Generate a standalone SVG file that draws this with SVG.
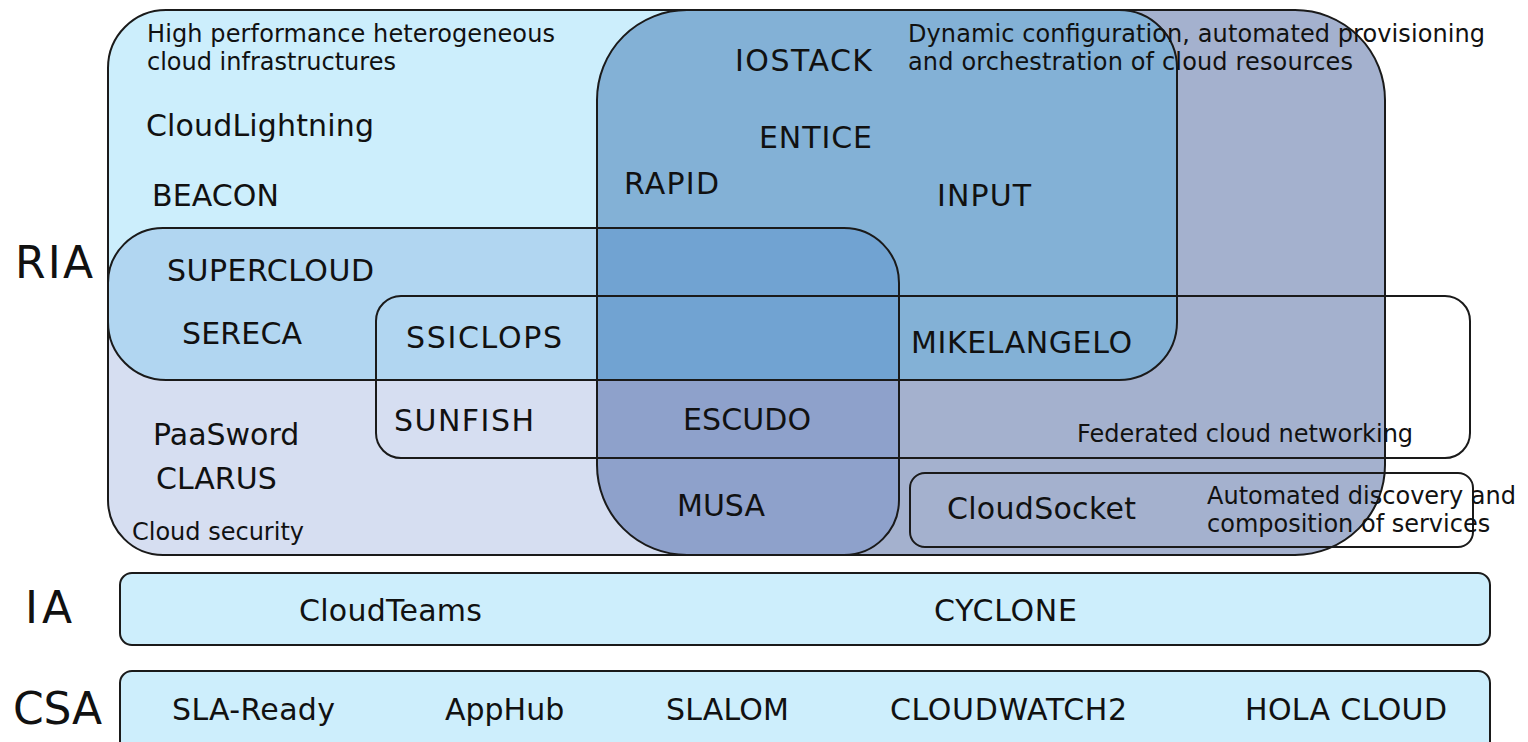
<svg xmlns="http://www.w3.org/2000/svg" width="1528" height="742" viewBox="0 0 1528 742">
<style>
  .edge { fill: none; stroke: #1a1a1a; stroke-width: 2; }
  .row { fill: #CDEEFC; stroke: #1a1a1a; stroke-width: 2; }
  text { font-family: "DejaVu Sans", Verdana, sans-serif; fill: #111; }
  .big { font-size: 30px; }
  .small { font-size: 24px; }
  .tier { font-size: 44px; }
</style>
<defs>
  <rect id="rHPC" x="108" y="10" width="1069" height="370" rx="58" ry="58"/>
  <rect id="rSEC" x="108" y="228" width="791" height="327" rx="55" ry="55"/>
  <rect id="rDYN" x="597" y="10" width="788" height="545" rx="90" ry="90"/>
  <clipPath id="cHPC"><rect x="108" y="10" width="1069" height="370" rx="58" ry="58"/></clipPath>
  <clipPath id="cSEC"><rect x="108" y="228" width="791" height="327" rx="55" ry="55"/></clipPath>
</defs>
<rect x="0" y="0" width="1528" height="742" fill="#ffffff"/>

<!-- region shading (set overlaps) -->
<g id="region-fills">
  <use href="#rHPC" fill="#CCEEFC"/>
  <use href="#rSEC" fill="#D6DEF1"/>
  <use href="#rDYN" fill="#A4B1CE"/>
  <g clip-path="url(#cHPC)">
    <use href="#rSEC" fill="#B1D6F1"/>
    <use href="#rDYN" fill="#83B1D6"/>
  </g>
  <g clip-path="url(#cSEC)">
    <use href="#rDYN" fill="#8EA1CB"/>
    <g clip-path="url(#cHPC)">
      <use href="#rDYN" fill="#71A3D2"/>
    </g>
  </g>
</g>

<g id="connectors"/>

<g id="set-hpc">
  <use href="#rHPC" class="edge"/>
  <text class="small" x="147" y="42" textLength="408" lengthAdjust="spacing">High performance heterogeneous</text>
  <text class="small" x="147" y="70">cloud infrastructures</text>
</g>
<g id="set-security">
  <use href="#rSEC" class="edge"/>
  <text class="small" x="132" y="540">Cloud security</text>
</g>
<g id="set-dynamic">
  <use href="#rDYN" class="edge"/>
  <text class="small" x="908" y="42" textLength="577" lengthAdjust="spacing">Dynamic configuration, automated provisioning</text>
  <text class="small" x="908" y="70" textLength="445" lengthAdjust="spacing">and orchestration of cloud resources</text>
</g>
<g id="set-networking">
  <rect class="edge" x="376" y="296" width="1094" height="162" rx="25" ry="25"/>
  <text class="small" x="1077" y="442">Federated cloud networking</text>
</g>
<g id="set-discovery">
  <rect class="edge" x="910" y="473" width="563" height="74" rx="15" ry="15"/>
  <text class="small" x="1207" y="504">Automated discovery and</text>
  <text class="small" x="1207" y="532">composition of services</text>
</g>

<g id="projects-ria">
  <text id="p-cloudlightning" class="big" x="146" y="136" textLength="228" lengthAdjust="spacing">CloudLightning</text>
  <text id="p-beacon" class="big" x="152" y="206" textLength="127" lengthAdjust="spacing">BEACON</text>
  <text id="p-iostack" class="big" x="735" y="71" textLength="137" lengthAdjust="spacing">IOSTACK</text>
  <text id="p-entice" class="big" x="759" y="148" textLength="113" lengthAdjust="spacing">ENTICE</text>
  <text id="p-rapid" class="big" x="624" y="194" textLength="95" lengthAdjust="spacing">RAPID</text>
  <text id="p-input" class="big" x="937" y="206" textLength="94" lengthAdjust="spacing">INPUT</text>
  <text id="p-supercloud" class="big" x="167" y="281" textLength="207" lengthAdjust="spacing">SUPERCLOUD</text>
  <text id="p-sereca" class="big" x="182" y="344" textLength="120" lengthAdjust="spacing">SERECA</text>
  <text id="p-ssiclops" class="big" x="406" y="348" textLength="156" lengthAdjust="spacing">SSICLOPS</text>
  <text id="p-mikelangelo" class="big" x="911" y="353" textLength="221" lengthAdjust="spacing">MIKELANGELO</text>
  <text id="p-sunfish" class="big" x="394" y="431" textLength="140" lengthAdjust="spacing">SUNFISH</text>
  <text id="p-escudo" class="big" x="683" y="430" textLength="128" lengthAdjust="spacing">ESCUDO</text>
  <text id="p-paasword" class="big" x="153" y="445">PaaSword</text>
  <text id="p-clarus" class="big" x="156" y="489">CLARUS</text>
  <text id="p-musa" class="big" x="677" y="516">MUSA</text>
  <text id="p-cloudsocket" class="big" x="947" y="519" textLength="189" lengthAdjust="spacing">CloudSocket</text>
</g>

<g id="tier-ria">
  <text class="tier" x="15" y="278" textLength="78" lengthAdjust="spacing">RIA</text>
</g>
<g id="tier-ia">
  <rect class="row" x="120" y="573" width="1370" height="72" rx="12" ry="12"/>
  <text class="tier" x="25" y="623" textLength="47" lengthAdjust="spacing">IA</text>
  <text id="p-cloudteams" class="big" x="299" y="621" textLength="183" lengthAdjust="spacing">CloudTeams</text>
  <text id="p-cyclone" class="big" x="934" y="621" textLength="143" lengthAdjust="spacing">CYCLONE</text>
</g>
<g id="tier-csa">
  <rect class="row" x="120" y="671" width="1370" height="82" rx="12" ry="12"/>
  <text class="tier" x="13" y="724" textLength="89" lengthAdjust="spacing">CSA</text>
  <text id="p-slaready" class="big" x="172" y="720" textLength="163" lengthAdjust="spacing">SLA-Ready</text>
  <text id="p-apphub" class="big" x="445" y="720">AppHub</text>
  <text id="p-slalom" class="big" x="666" y="720" textLength="123" lengthAdjust="spacing">SLALOM</text>
  <text id="p-cloudwatch2" class="big" x="890" y="720" textLength="237" lengthAdjust="spacing">CLOUDWATCH2</text>
  <text id="p-holacloud" class="big" x="1245" y="720" textLength="202" lengthAdjust="spacing">HOLA CLOUD</text>
</g>
</svg>
